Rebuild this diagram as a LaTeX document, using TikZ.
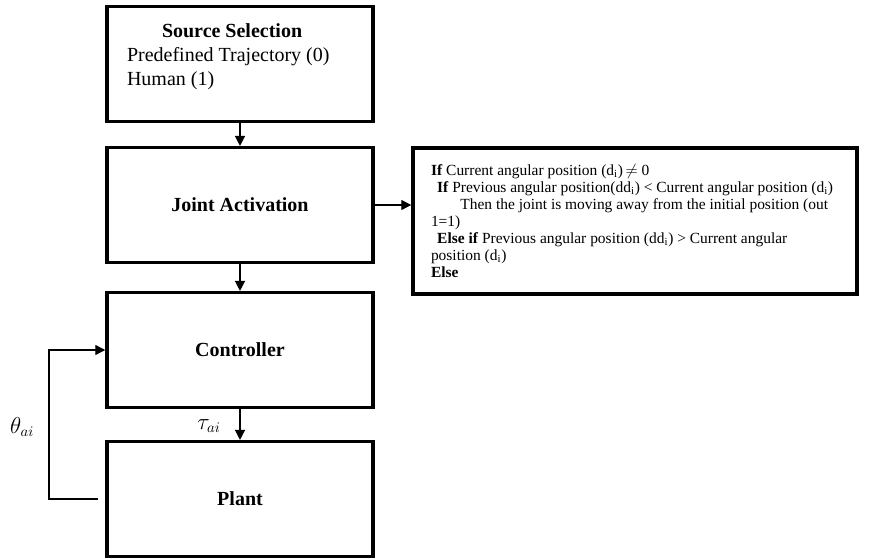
\documentclass[tikz,border=0pt]{standalone}
\usepackage{amsmath}
\usepackage{amssymb}
\usepackage{fontspec}
\setmainfont{Liberation Serif}
\usetikzlibrary{arrows.meta,positioning}

\tikzset{
  block/.style={draw,line width=2.6pt,minimum width=199.5pt,minimum height=86pt,
                inner sep=0pt,font=\fontsize{15}{18}\selectfont},
  flow/.style={line width=1pt},
  rulebox/.style={draw,line width=2.6pt,minimum width=333pt,minimum height=109.5pt,
                  text width=306pt,align=flush left,inner xsep=13.5pt,
                  font=\fontsize{11.6}{12.75}\selectfont},
}

\begin{document}
\begin{tikzpicture}[x=0.75pt,y=-0.75pt,>={Triangle[length=7.5pt,width=7.5pt]}]
      \useasboundingbox (0,0) rectangle (876,558);

      \node[block,align=flush left,text width=169.5pt,inner xsep=15pt] (src) at (240,64)
        {\hspace*{1.75em}\textbf{Source Selection}\\
         Predefined Trajectory (0)\\ Human (1)\rule[-14pt]{0pt}{14pt}};
      \node[block] (joint) at (240,205) {\textbf{Joint Activation}};
      \node[block] (ctrl)  at (240,350) {\textbf{Controller}};
      \node[block] (plant) at (240,499) {\textbf{Plant}};
      \node[rulebox] (rule) at (635,221) {%
        \textbf{If} Current angular position (d\textsubscript{i})$\,\neq$ 0\\
        \hspace*{0.4em}\textbf{If} Previous angular position(dd\textsubscript{i}) < Current angular position (d\textsubscript{i})\\
        \hspace*{1.9em}Then the joint is moving away from the initial position (out\\
        1=1)\\
        \hspace*{0.4em}\textbf{Else if} Previous angular position (dd\textsubscript{i}) > Current angular\\
        position (d\textsubscript{i})\\
        \textbf{Else}};

      \node (theta) at (22,427) {\fontsize{16}{18}\selectfont$\theta_{ai}$};
      \node (tau)   at (209,426) {\fontsize{16}{18}\selectfont$\tau_{ai}$};

      \coordinate (fbl) at (49,0);

      \draw[flow,->] (src) -- (joint);
      \draw[flow,->] (joint) -- (ctrl);
      \draw[flow,->] (ctrl) -- (plant);
      \draw[flow,->] (joint.east) -- (joint.east -| rule.west);
      \draw[flow,->] ([xshift=-5.25pt]plant.west) -- (fbl |- plant.west) |- (ctrl.west);
    \end{tikzpicture}
\end{document}
